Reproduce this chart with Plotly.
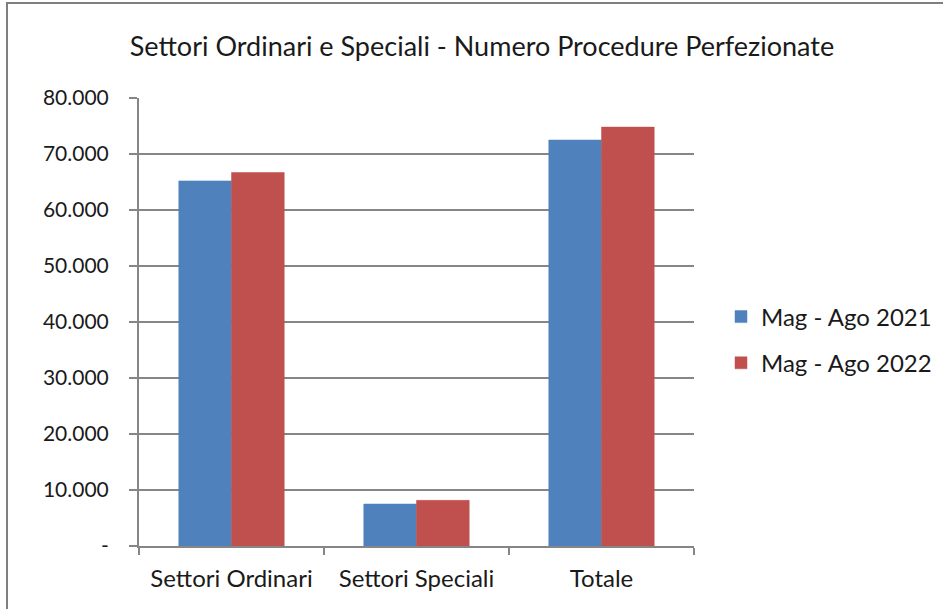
import plotly.graph_objects as go

categories = ["Settori Ordinari", "Settori Speciali", "Totale"]
series_2021 = [65200, 7500, 72500]
series_2022 = [66700, 8150, 74800]
tick_vals = [0, 10000, 20000, 30000, 40000, 50000, 60000, 70000, 80000]
tick_text = ["-", "10.000", "20.000", "30.000", "40.000", "50.000", "60.000", "70.000", "80.000"]

FONT = "Lato, Liberation Sans, sans-serif"
GRID = "#868686"

# plot area in pixels: x 139..694, y 98..546
PW, PH = 555, 448

fig = go.Figure()
fig.add_trace(go.Bar(x=categories, y=series_2021, name="Mag - Ago 2021", legendgroup="a",
                     marker=dict(color="#4f81bd", line=dict(color="#4f81bd", width=0.5))))
fig.add_trace(go.Bar(x=categories, y=series_2022, name="Mag - Ago 2022", legendgroup="b",
                     marker=dict(color="#c0504d", line=dict(color="#c0504d", width=0.5))))

fig.update_layout(
    width=943, height=609,
    paper_bgcolor="white", plot_bgcolor="white",
    barmode="group", bargap=0.43, bargroupgap=0,
    font=dict(family=FONT, color="#1a1a1a", size=24),
    title=dict(text="Settori Ordinari e Speciali - Numero Procedure Perfezionate",
               x=(482 - 139) / PW, xref="paper", xanchor="center",
               y=1 - 47 / 609, yanchor="middle",
               font=dict(size=27, family=FONT)),
    margin=dict(l=139, r=249, t=98, b=63, autoexpand=False),
    legend=dict(x=(721 - 139) / PW, xanchor="left", y=(546 - 340) / PH, yanchor="middle",
                font=dict(size=24), traceorder="grouped", tracegroupgap=12, itemwidth=30),
    showlegend=True,
)
fig.update_yaxes(range=[0, 80000], tickvals=tick_vals, ticktext=tick_text,
                 tickfont=dict(size=21),
                 showgrid=True, gridcolor=GRID, gridwidth=2,
                 showline=True, linecolor=GRID, linewidth=2,
                 ticks="outside", ticklen=8, tickcolor=GRID, tickwidth=2,
                 zeroline=False, ticklabelstandoff=16)
fig.update_xaxes(showline=True, linecolor=GRID, linewidth=2,
                 ticks="outside", ticklen=7, tickcolor=GRID, tickwidth=2,
                 tickson="boundaries", showgrid=False, ticklabelstandoff=10)

# outer chart frame
fig.add_shape(type="rect", xref="paper", yref="paper",
              x0=(7 - 139) / PW, x1=(955 - 139) / PW,
              y0=(546 - 620) / PH, y1=(546 - 3) / PH,
              line=dict(color="#7f7f7f", width=2), layer="below")

fig.write_html("out.html", config={"displayModeBar": False},
               post_script="document.body.style.margin='0';")
